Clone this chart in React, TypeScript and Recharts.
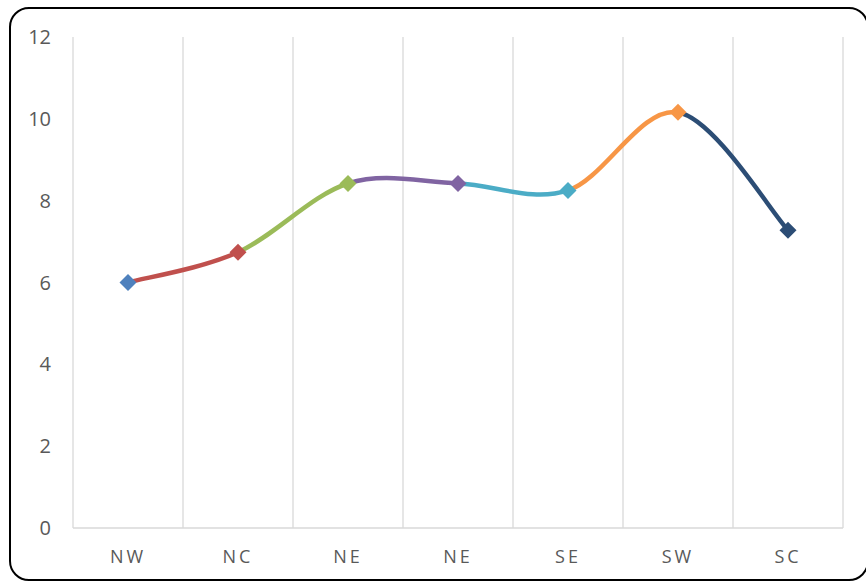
import React from 'react';
import { LineChart, Line, XAxis, YAxis, CartesianGrid } from 'recharts';

const regions = ['NW', 'NC', 'NE', 'NE', 'SE', 'SW', 'SC'];
const values = [6.0, 6.74, 8.42, 8.42, 8.25, 10.16, 7.28];
const pointColors = ['#4F81BD', '#C0504D', '#9BBB59', '#8064A2', '#4BACC6', '#F79646', '#2C4D75'];
const yTicks = [0, 2, 4, 6, 8, 10, 12];

const data = regions.map((r, i) => ({ idx: i, region: r, value: values[i] }));
const xTicks = regions.map((_, i) => i);
const boundaries = [-0.5, ...regions.map((_, i) => i + 0.5)];

// Excel-like smoothed line (uniform Catmull-Rom as cubic Bezier)
function excelCurve(context: any) {
  let pts: [number, number][] = [];
  return {
    areaStart() {},
    areaEnd() {},
    lineStart() {
      pts = [];
    },
    point(x: number, y: number) {
      pts.push([+x, +y]);
    },
    lineEnd() {
      const n = pts.length;
      if (!n) return;
      context.moveTo(pts[0][0], pts[0][1]);
      for (let i = 0; i < n - 1; i++) {
        const p0 = pts[i - 1] || pts[i];
        const p1 = pts[i];
        const p2 = pts[i + 1];
        const p3 = pts[i + 2] || p2;
        context.bezierCurveTo(
          p1[0] + (p2[0] - p0[0]) / 6,
          p1[1] + (p2[1] - p0[1]) / 6,
          p2[0] - (p3[0] - p1[0]) / 6,
          p2[1] - (p3[1] - p1[1]) / 6,
          p2[0],
          p2[1]
        );
      }
    },
  };
}

const renderDiamond = (props: any) => {
  const { cx, cy, index } = props;
  const r = 8.5;
  return (
    <path
      key={`dm-${index}`}
      d={`M${cx},${cy - r}L${cx + r},${cy}L${cx},${cy + r}L${cx - r},${cy}Z`}
      fill={pointColors[index]}
    />
  );
};

const segCount = regions.length - 1;

export default function App() {
  return (
    <div
      style={{
        position: 'fixed',
        left: 0,
        top: 0,
        width: 866,
        height: 582,
        overflow: 'hidden',
        background: '#fff',
        fontFamily: '"Open Sans", sans-serif',
      }}
    >
      <div
        style={{
          position: 'absolute',
          left: 8.5,
          top: 7.2,
          width: 860,
          height: 574,
          border: '2px solid #000',
          borderRadius: 20,
          boxSizing: 'border-box',
        }}
      />
      <div style={{ position: 'absolute', left: 0, top: 0 }}>
        <LineChart
          width={866}
          height={582}
          data={data}
          margin={{ top: 37, right: 23, left: 0, bottom: 0 }}
        >
          <defs>
            <linearGradient id="segGrad" x1="0" y1="0" x2="1" y2="0">
              {pointColors.slice(1).flatMap((c, i) => [
                <stop key={`a${i}`} offset={i / segCount} stopColor={c} />,
                <stop key={`b${i}`} offset={(i + 1) / segCount} stopColor={c} />,
              ])}
            </linearGradient>
          </defs>
          <CartesianGrid
            horizontal={false}
            vertical={true}
            verticalValues={boundaries}
            stroke="#D9D9D9"
            strokeWidth={1.3}
          />
          <XAxis
            dataKey="idx"
            type="number"
            domain={[-0.5, 6.5]}
            ticks={xTicks}
            interval={0}
            tickFormatter={(v: number) => regions[v]}
            axisLine={{ stroke: '#D9D9D9', strokeWidth: 1.3 }}
            tickLine={false}
            tickSize={0}
            tickMargin={22}
            height={54}
            tick={{ fill: '#595959', fontSize: 18, letterSpacing: 3 }}
          />
          <YAxis
            type="number"
            domain={[0, 12]}
            ticks={yTicks}
            interval={0}
            axisLine={false}
            tickLine={false}
            tickSize={0}
            tickMargin={22}
            width={73}
            tick={{ fill: '#595959', fontSize: 20 }}
          />
          <Line
            dataKey="value"
            type={excelCurve as any}
            stroke="url(#segGrad)"
            strokeWidth={4.5}
            dot={renderDiamond}
            activeDot={false}
            isAnimationActive={false}
          />
        </LineChart>
      </div>
    </div>
  );
}
